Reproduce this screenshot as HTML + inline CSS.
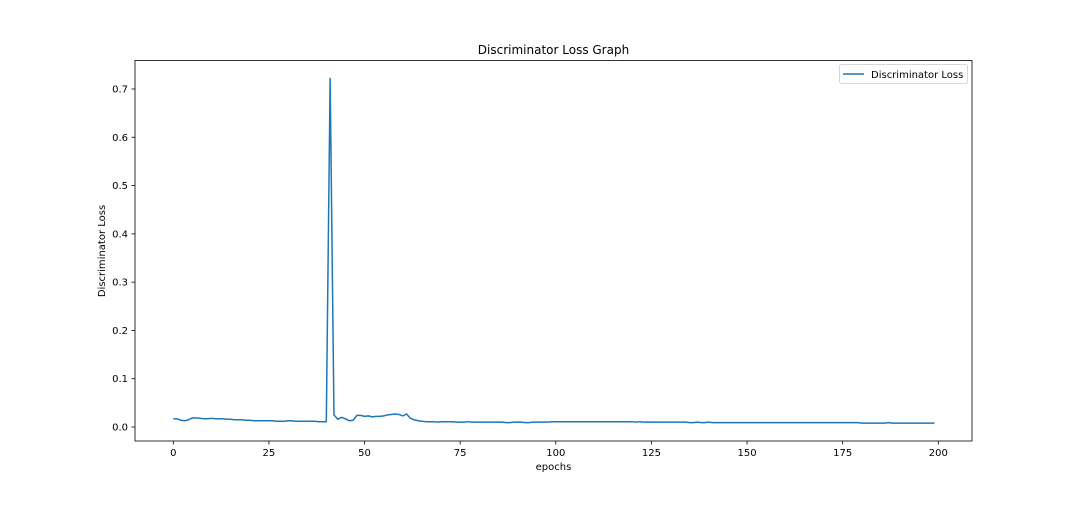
<!DOCTYPE html>
<html><head><meta charset="utf-8"><style>
body{margin:0;background:#fff;}
svg text{font-family:"DejaVu Sans","Liberation Sans",sans-serif;fill:#000;}
</style></head><body>
<svg id="chart" width="1080" height="504" xmlns="http://www.w3.org/2000/svg">
<text x="553.5" y="54" font-size="12" text-anchor="middle">Discriminator Loss Graph</text>
<g id="axes"></g>
<path id="line" fill="none" stroke="#1f77b4" stroke-width="1.5" stroke-linejoin="round"/>
<rect x="135" y="60.5" width="837" height="380.5" fill="none" stroke="#000" stroke-width="0.8"/>
<g>
<rect x="839.5" y="64.5" width="128" height="19" fill="#fff" stroke="#ccc" stroke-width="0.8" rx="2"/>
<line x1="843" y1="74" x2="864" y2="74" stroke="#1f77b4" stroke-width="1.5"/>
<text x="871" y="78" font-size="10">Discriminator Loss</text>
</g>
<text x="553.5" y="470" font-size="10" text-anchor="middle">epochs</text>
<text transform="translate(105,251) rotate(-90)" font-size="10" text-anchor="middle">Discriminator Loss</text>
</svg>
<script>
const xTicks=[0,25,50,75,100,125,150,175,200];
const yTicks=[0.0,0.1,0.2,0.3,0.4,0.5,0.6,0.7];
const lossValues=[
0.017,0.017,0.014,0.013,0.015,0.019,0.019,0.018,0.017,0.017,
0.018,0.017,0.017,0.017,0.016,0.016,0.015,0.015,0.015,0.014,
0.014,0.013,0.013,0.013,0.013,0.013,0.013,0.012,0.012,0.012,
0.013,0.013,0.012,0.012,0.012,0.012,0.012,0.012,0.011,0.011,
0.011,0.722,0.025,0.016,0.020,0.017,0.013,0.014,0.024,0.024,
0.022,0.023,0.021,0.022,0.022,0.023,0.025,0.026,0.027,0.026,
0.023,0.027,0.018,0.015,0.013,0.012,0.011,0.011,0.011,0.010,
0.011,0.011,0.011,0.011,0.010,0.010,0.010,0.011,0.010,0.010,
0.010,0.010,0.010,0.010,0.010,0.010,0.010,0.009,0.009,0.010,
0.010,0.010,0.009,0.009,0.010,0.010,0.010,0.010,0.010,0.011,
0.011,0.011,0.011,0.011,0.011,0.011,0.011,0.011,0.011,0.011,
0.011,0.011,0.011,0.011,0.011,0.011,0.011,0.011,0.011,0.011,
0.011,0.010,0.011,0.010,0.010,0.010,0.010,0.010,0.010,0.010,
0.010,0.010,0.010,0.010,0.010,0.009,0.009,0.010,0.009,0.009,
0.010,0.009,0.009,0.009,0.009,0.009,0.009,0.009,0.009,0.009,
0.009,0.009,0.009,0.009,0.009,0.009,0.009,0.009,0.009,0.009,
0.009,0.009,0.009,0.009,0.009,0.009,0.009,0.009,0.009,0.009,
0.009,0.009,0.009,0.009,0.009,0.009,0.009,0.009,0.009,0.009,
0.008,0.008,0.008,0.008,0.008,0.008,0.008,0.009,0.008,0.008,
0.008,0.008,0.008,0.008,0.008,0.008,0.008,0.008,0.008,0.008];
const X=v=>173.3+v*(938.3-173.3)/200;
const Y=v=>427-v*(427-89)/0.7;
const NS="http://www.w3.org/2000/svg";
const axes=document.getElementById('axes');
function mk(tag,attrs,txt){const e=document.createElementNS(NS,tag);for(const k in attrs)e.setAttribute(k,attrs[k]);if(txt!==undefined)e.textContent=txt;axes.appendChild(e);return e;}
xTicks.forEach(t=>{
 const l=mk('line',{x1:X(t),x2:X(t),y1:441,y2:444.5,stroke:'#000','stroke-width':0.8});
 
 
 const s=mk('text',{x:X(t),y:456,'font-size':10,'text-anchor':'middle'},String(t));
 
 
});
yTicks.forEach(t=>{
 const l=mk('line',{x1:131.5,x2:135,y1:Y(t),y2:Y(t),stroke:'#000','stroke-width':0.8});
 
 
 const s=mk('text',{x:128,y:Y(t)+3.5,'font-size':10,'text-anchor':'end'},t.toFixed(1));
 
 
});
document.getElementById('line').setAttribute('d',lossValues.map((v,i)=>(i?'L':'M')+X(i).toFixed(2)+','+Y(v).toFixed(2)).join(''));
</script>
</body></html>
